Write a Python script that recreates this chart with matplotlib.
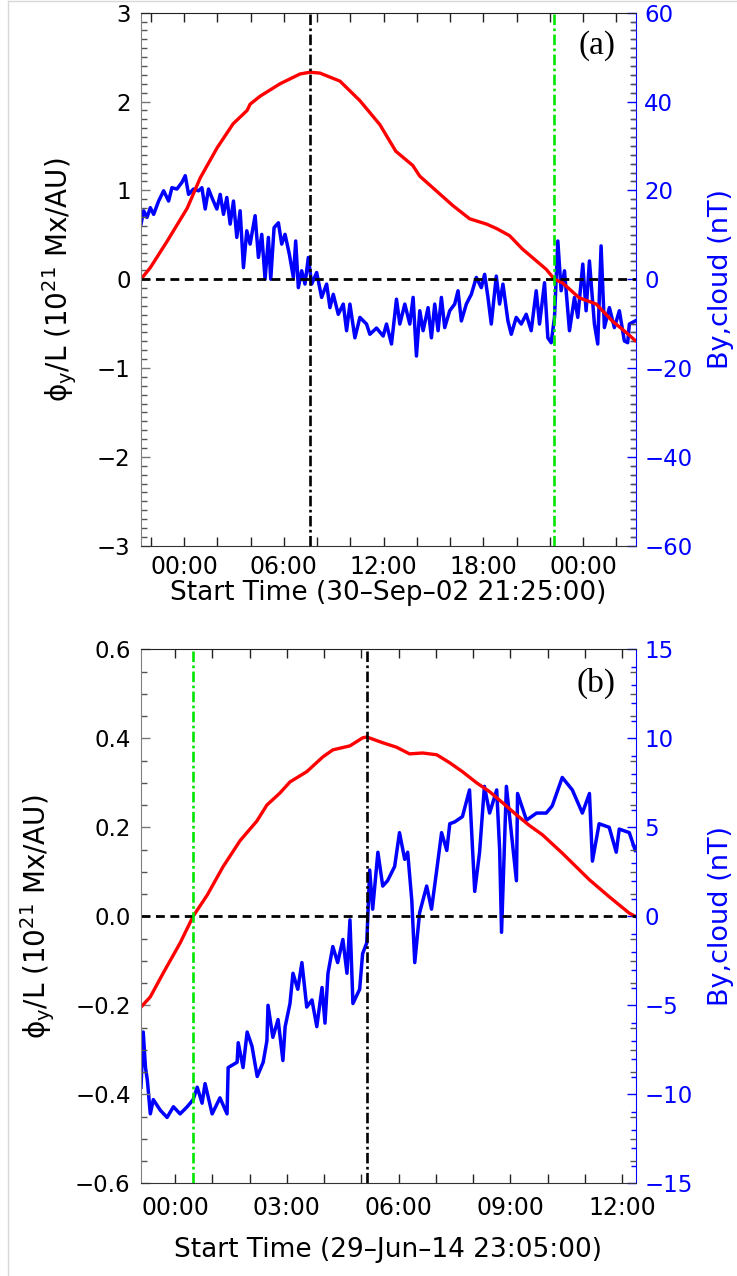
import matplotlib
matplotlib.use('Agg')
import matplotlib.pyplot as plt
from matplotlib.ticker import MultipleLocator, FixedLocator, FuncFormatter
from matplotlib.lines import Line2D
import numpy as np

plt.rcParams['font.family'] = ['DejaVu Sans']
plt.rcParams['mathtext.fontset'] = 'dejavusans'

# ---------------- panel (a): start 30-Sep-02 21:25:00 ----------------
a_start = 21 + 25 / 60.          # clock time of t=0 (hours)
a_tmax = 29.76                   # hours shown
a_t_black = 10.16
a_t_green = 24.85

# phi_y/L (10^21 Mx/AU) vs hours since start
a_t_phi = [0.0, 0.56, 1.58, 2.78, 3.56, 4.58, 5.54, 6.38, 6.56, 7.16, 8.36, 9.56, 10.16, 10.76,
           11.96, 13.16, 14.36, 15.32, 16.34, 16.76, 17.96, 18.74, 19.76, 20.78, 21.38, 22.16,
           22.93, 24.37, 24.85, 25.33, 26.35, 27.37, 28.33, 29.17, 29.71]
a_phi = [0.0, 0.13, 0.43, 0.80, 1.14, 1.48, 1.75, 1.90, 1.97, 2.06, 2.20, 2.31, 2.33, 2.32,
         2.23, 2.01, 1.74, 1.44, 1.28, 1.16, 0.96, 0.83, 0.68, 0.62, 0.57, 0.49,
         0.34, 0.11, 0.0, -0.04, -0.21, -0.28, -0.47, -0.60, -0.69]

# By,cloud (nT)
a_t_by = [0.00, 0.16, 0.36, 0.56, 0.76, 1.06, 1.36, 1.66, 1.86, 2.16,
          2.46, 2.66, 2.86, 3.16, 3.46, 3.66, 3.86, 4.06, 4.26, 4.56,
          4.76, 4.96, 5.16, 5.36, 5.56, 5.76, 5.96, 6.16, 6.36, 6.56,
          6.86, 7.06, 7.26, 7.46, 7.66, 7.80, 8.00, 8.26, 8.46, 8.66,
          8.92, 9.16, 9.30, 9.46, 9.66, 9.86, 10.06, 10.26, 10.56, 10.86,
          11.16, 11.36, 11.56, 11.86, 12.16, 12.36, 12.56, 12.86, 13.16, 13.56,
          13.76, 14.16, 14.56, 14.76, 15.06, 15.36, 15.56, 15.86, 16.16, 16.36,
          16.56, 16.76, 16.96, 17.26, 17.46, 17.66, 17.86, 18.06, 18.26, 18.56,
          18.86, 19.06, 19.26, 19.56, 19.86, 20.16, 20.46, 20.66, 20.86, 21.06,
          21.36, 21.56, 21.76, 22.06, 22.26, 22.56, 22.86, 23.16, 23.46, 23.76,
          23.96, 24.26, 24.46, 24.66, 24.86, 25.06, 25.26, 25.46, 25.76, 26.06,
          26.26, 26.56, 26.76, 26.96, 27.26, 27.46, 27.66, 27.86, 28.16, 28.46,
          28.76, 29.06, 29.26, 29.36, 29.71]
a_by = [12.4, 15.4, 13.9, 16.1, 14.6, 17.6, 19.9, 17.6, 20.6, 20.3,
        21.8, 23.3, 19.1, 20.3, 19.9, 20.6, 15.8, 20.3, 18.4, 15.8,
        19.1, 14.6, 18.4, 12.4, 17.6, 9.4, 15.4, 2.6, 10.9, 7.9,
        14.3, 4.9, 10.1, 0.0, 9.4, 0.0, 11.6, 12.7, 7.9, 10.1,
        5.6, 0.4, 8.6, -1.9, 1.9, -1.1, 4.9, -1.1, 1.5, -4.1,
        -1.1, -6.4, -3.4, -7.9, -5.6, -11.6, -5.6, -13.2, -8.6, -10.1,
        -12.4, -11.0, -12.8, -10.1, -14.6, -4.5, -10.1, -5.6, -10.1, -4.1,
        -17.3, -7.1, -11.6, -6.4, -13.2, -5.6, -11.6, -4.1, -10.9, -7.1,
        -5.6, -2.6, -9.4, -5.6, -3.4, 0.4, -1.9, 1.1, -4.1, -10.1,
        0.7, -5.6, -1.1, -9.4, -12.4, -8.6, -10.1, -7.9, -11.6, -2.6,
        -10.1, -0.8, -13.2, -14.3, -8.6, 8.6, -2.6, 1.9, -11.6, -4.1,
        -8.6, 3.4, -7.1, 4.1, -10.1, -14.6, 7.5, -10.9, -6.4, -10.9,
        -7.1, -13.9, -14.3, -10.1, -9.4]

# ---------------- panel (b): start 29-Jun-14 23:05:00 ----------------
b_start = 23 + 5 / 60.
b_tmax = 13.29
b_t_black = 6.07
b_t_green = 1.40

b_t_phi = [0.0, 0.25, 0.60, 1.05, 1.40, 1.78, 2.20, 2.66, 3.11, 3.38,
           3.73, 4.00, 4.45, 4.88, 5.15, 5.61, 5.95, 6.06, 6.49, 6.86,
           7.21, 7.56, 7.94, 8.29, 8.63, 9.01, 9.36, 9.71, 10.08, 10.43,
           10.78, 11.31, 12.04, 12.57, 13.11, 13.27]
b_phi = [-0.204, -0.181, -0.127, -0.060, 0.0, 0.048, 0.111, 0.170, 0.214, 0.250,
         0.277, 0.302, 0.325, 0.358, 0.374, 0.383, 0.401, 0.403, 0.390, 0.380,
         0.365, 0.367, 0.363, 0.345, 0.325, 0.300, 0.280, 0.255, 0.228, 0.204,
         0.183, 0.142, 0.082, 0.044, 0.007, 0.0]

b_t_by = [0.0, 0.06, 0.12, 0.17, 0.25, 0.33, 0.52, 0.70, 0.87, 1.05,
          1.24, 1.40, 1.51, 1.64, 1.72, 1.91, 2.12, 2.31, 2.34, 2.58,
          2.61, 2.74, 2.85, 2.98, 3.12, 3.28, 3.38, 3.41, 3.54, 3.68,
          3.81, 3.87, 4.00, 4.08, 4.21, 4.32, 4.45, 4.59, 4.72, 4.86,
          4.94, 5.02, 5.15, 5.28, 5.42, 5.53, 5.61, 5.69, 5.87, 5.95,
          6.06, 6.09, 6.14, 6.22, 6.36, 6.49, 6.62, 6.81, 6.94, 7.08,
          7.16, 7.27, 7.35, 7.48, 7.67, 7.80, 7.94, 8.07, 8.21, 8.29,
          8.42, 8.63, 8.82, 8.96, 9.09, 9.22, 9.36, 9.55, 9.63, 9.68,
          9.81, 10.08, 10.11, 10.35, 10.62, 10.88, 11.04, 11.31, 11.58, 11.85,
          12.04, 12.12, 12.30, 12.57, 12.76, 12.84, 13.11, 13.27]
b_by = [-9.6, -6.5, -8.5, -9.2, -11.1, -10.3, -10.9, -11.3, -10.7, -11.1,
        -10.7, -10.3, -9.6, -10.5, -9.4, -11.1, -10.2, -11.1, -8.5, -8.2,
        -7.1, -8.5, -6.5, -7.3, -9.0, -8.2, -7.0, -5.0, -6.8, -5.8,
        -8.1, -6.2, -4.9, -3.2, -4.1, -2.6, -5.1, -4.7, -6.2, -4.0,
        -6.0, -3.2, -1.7, -2.6, -1.3, -3.2, -0.2, -4.9, -4.1, -2.1,
        -1.5, 0.0, 2.6, 0.4, 3.6, 1.7, 2.0, 2.8, 4.7, 3.2,
        3.6, 0.9, -2.6, 0.2, 1.7, 0.4, 2.6, 4.7, 3.7, 5.2,
        5.3, 5.6, 7.1, 1.4, 3.6, 7.3, 5.8, 7.1, 3.7, -0.9,
        7.3, 2.0, 6.9, 5.4, 5.8, 5.8, 6.2, 7.8, 7.1, 5.8,
        6.9, 3.1, 5.2, 5.0, 3.6, 4.9, 4.7, 3.7]

W, H = 737., 1276.
fig = plt.figure(figsize=(W / 100, H / 100), dpi=100)

BLUE = '#0000ff'


def clock_fmt(start):
    def f(h, pos):
        m = int(round((start + h) * 60)) % (24 * 60)
        return '%02d:%02d' % (m // 60, m % 60)
    return FuncFormatter(f)


def minus(fmt):
    return FuncFormatter(lambda v, p: (fmt % (0.0 if abs(v) < 1e-9 else v)).replace('-', '\u2212'))


def panel(top_px, bot_px, t_phi, phi, t_by, by, start, tmax, t_black, t_green,
          maj_step, min_step, ylim, ymaj, ymin, yfmt, bylim, bymaj, bymin,
          tag, xlabel, xlab_base, ylab_x, xpad):
    rect = [141 / W, 1 - bot_px / H, 495 / W, (bot_px - top_px) / H]
    ax = fig.add_axes(rect)
    ax2 = ax.twinx()
    ax.set_zorder(ax2.get_zorder() + 1)
    ax.patch.set_visible(False)

    ax2.plot(t_by, by, color=BLUE, lw=2.5)
    ax.plot(t_phi, phi, color='#ff0000', lw=2.4)
    ax.axhline(0, color='k', ls=(0, (3.2, 2.0)), lw=2.0)
    ax.axvline(t_black, color='k', ls=(0, (4, 1.3, 1, 1.3)), lw=1.9)
    ax.axvline(t_green, color='#00e600', ls=(0, (4, 1.3, 1, 1.3)), lw=1.9)

    ax.set_xlim(0, tmax)
    ax.set_ylim(*ylim)
    ax2.set_ylim(*bylim)

    first = (24 - start) % 24
    ax.xaxis.set_major_locator(FixedLocator(np.arange(first, tmax, maj_step)))
    ax.xaxis.set_minor_locator(FixedLocator(np.arange(first % min_step, tmax, min_step)))
    ax.xaxis.set_major_formatter(clock_fmt(start))
    ax.yaxis.set_major_locator(MultipleLocator(ymaj))
    ax.yaxis.set_minor_locator(MultipleLocator(ymin))
    ax.yaxis.set_major_formatter(minus(yfmt))
    ax2.yaxis.set_major_locator(MultipleLocator(bymaj))
    ax2.yaxis.set_minor_locator(MultipleLocator(bymin))
    ax2.yaxis.set_major_formatter(minus('%d'))

    ax.tick_params(axis='x', which='both', direction='in', length=6.5, width=1,
                   top=True, colors='#222222', labelcolor='k', labelsize=17, pad=xpad)
    ax.tick_params(axis='y', which='major', direction='in', length=6.5, width=1,
                   left=True, right=False, colors='#777777', labelcolor='k',
                   labelsize=16.5, pad=7.5)
    ax.tick_params(axis='y', which='minor', direction='in', length=4, width=1,
                   left=True, right=True, colors='#555555')
    ax2.tick_params(axis='y', which='major', direction='in', length=6.5, width=1,
                    colors=BLUE, labelcolor=BLUE, labelsize=16.5, pad=6)
    ax2.tick_params(axis='y', which='minor', direction='in', length=3.5, width=1,
                    colors=BLUE)

    ax.spines['right'].set_visible(False)
    ax.spines['left'].set_color('#808080')
    ax.spines['bottom'].set_color('#333333')
    ax.spines['top'].set_color('#222222')
    for s in ('left', 'top', 'bottom'):
        ax2.spines[s].set_visible(False)
    ax2.spines['right'].set_color(BLUE)

    ax.text(0.9576, (bot_px - (top_px + 18)) / (bot_px - top_px), tag, transform=ax.transAxes,
            ha='right', va='top', family='Liberation Serif', fontsize=24)

    ymid = 1 - (top_px + bot_px) / 2 / H
    fig.text(ylab_x / W, ymid, '\u03d5$_\\mathrm{y}$/L (10$^{21}$ Mx/AU)', rotation=90,
             ha='center', va='center', fontsize=20)
    fig.text(721 / W, ymid, 'By,cloud (nT)', rotation=90, ha='center', va='center',
             fontsize=19.5, color=BLUE)
    fig.text(388 / W, 1 - xlab_base / H, xlabel, ha='center', va='baseline', fontsize=19)
    return ax, ax2


panel(12.7, 545.7, a_t_phi, a_phi, a_t_by, a_by, a_start, a_tmax, a_t_black, a_t_green,
      6, 2, (-3, 3), 1, 0.1, '%d', (-60, 60), 20, 2,
      '(a)', 'Start Time (30\u2013Sep\u201302 21:25:00)', 600, 60, 7)
panel(649.3, 1183.3, b_t_phi, b_phi, b_t_by, b_by, b_start, b_tmax, b_t_black, b_t_green,
      3, 1, (-0.6, 0.6), 0.2, 0.05, '%.1f', (-15, 15), 5, 1,
      '(b)', 'Start Time (29\u2013Jun\u201314 23:05:00)', 1257, 38, 9)

# faint frame of the original screenshot
fig.add_artist(Line2D([8 / W, 8 / W], [0, 1 - 1 / H], transform=fig.transFigure,
                      color='#d8d8d8', lw=1))
fig.add_artist(Line2D([8 / W, 1], [1 - 1 / H, 1 - 1 / H], transform=fig.transFigure,
                      color='#d8d8d8', lw=1))

fig.savefig('out.png', dpi=100)
